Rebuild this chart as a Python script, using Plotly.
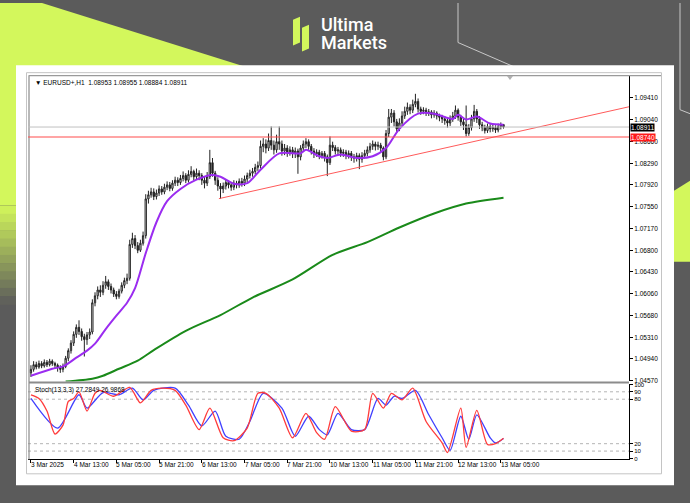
import plotly.graph_objects as go

W, H = 690, 503

# ---------------- data ----------------
tick_bars = [0, 16, 32, 48, 64, 80, 96, 112, 128, 144, 160, 176]
tick_labels = ["3 Mar 2025", "4 Mar 13:00", "5 Mar 05:00", "5 Mar 21:00", "6 Mar 13:00",
               "7 Mar 05:00", "7 Mar 21:00", "10 Mar 13:00", "11 Mar 05:00", "11 Mar 21:00",
               "12 Mar 13:00", "13 Mar 05:00"]
price_ticks = [1.04570, 1.04940, 1.05310, 1.05680, 1.06060, 1.06430, 1.06800, 1.07170,
               1.07550, 1.07920, 1.08290, 1.08660, 1.09040, 1.09410]

opens = [
    1.0470, 1.0476, 1.0484, 1.0480, 1.0486, 1.0482, 1.0488, 1.0484, 1.0490, 1.0486,
    1.0483, 1.0479, 1.0476, 1.0481, 1.0495, 1.0508, 1.0521, 1.0536, 1.0548, 1.0541,
    1.0532, 1.0527, 1.0535, 1.0540, 1.0590, 1.0602, 1.0612, 1.0608, 1.0620, 1.0626,
    1.0618, 1.0612, 1.0605, 1.0601, 1.0610, 1.0620, 1.0628, 1.0632, 1.0690, 1.0700,
    1.0688, 1.0680, 1.0692, 1.0705, 1.0768, 1.0775, 1.0780, 1.0772, 1.0778, 1.0785,
    1.0780, 1.0788, 1.0792, 1.0786, 1.0795, 1.0800, 1.0796, 1.0803, 1.0808, 1.0800,
    1.0810, 1.0815, 1.0806, 1.0812, 1.0808, 1.0800, 1.0795, 1.0806, 1.0830, 1.0812,
    1.0800, 1.0790, 1.0785, 1.0790, 1.0796, 1.0792, 1.0788, 1.0795, 1.0792, 1.0798,
    1.0795, 1.0802, 1.0808, 1.0812, 1.0815, 1.0822, 1.0825, 1.0858, 1.0862, 1.0855,
    1.0868, 1.0860, 1.0852, 1.0866, 1.0862, 1.0850, 1.0855, 1.0848, 1.0852, 1.0846,
    1.0850, 1.0840, 1.0855, 1.0862, 1.0866, 1.0858, 1.0850, 1.0845, 1.0848, 1.0842,
    1.0846, 1.0840, 1.0830, 1.0860, 1.0856, 1.0850, 1.0852, 1.0846, 1.0848, 1.0843,
    1.0846, 1.0840, 1.0838, 1.0842, 1.0836, 1.0842, 1.0846, 1.0852, 1.0858, 1.0862,
    1.0858, 1.0860, 1.0855, 1.0840, 1.0880, 1.0908, 1.0915, 1.0900, 1.0888, 1.0898,
    1.0910, 1.0918, 1.0925, 1.0920, 1.0930, 1.0935, 1.0922, 1.0918, 1.0920, 1.0915,
    1.0917, 1.0912, 1.0915, 1.0910, 1.0908, 1.0905, 1.0902, 1.0898, 1.0905, 1.0910,
    1.0920, 1.0908, 1.0900, 1.0895, 1.0880, 1.0890, 1.0905, 1.0918, 1.0905, 1.0895,
    1.0890, 1.0885, 1.0892, 1.0888, 1.0890, 1.0886, 1.0892, 1.08953]
highs = [
    1.0483, 1.0490, 1.0489, 1.0491, 1.0490, 1.0493, 1.0492, 1.0494, 1.0493, 1.0489,
    1.0486, 1.0483, 1.0486, 1.0499, 1.0512, 1.0526, 1.0541, 1.0553, 1.0560, 1.0546,
    1.0537, 1.0540, 1.0546, 1.0596, 1.0608, 1.0618, 1.0620, 1.0627, 1.0636, 1.0630,
    1.0623, 1.0616, 1.0610, 1.0614, 1.0625, 1.0633, 1.0640, 1.0698, 1.0710, 1.0706,
    1.0694, 1.0698, 1.0712, 1.0776, 1.0782, 1.0787, 1.0786, 1.0784, 1.0791, 1.0790,
    1.0794, 1.0798, 1.0797, 1.0800, 1.0806, 1.0805, 1.0809, 1.0815, 1.0812, 1.0817,
    1.0824, 1.0818, 1.0820, 1.0817, 1.0812, 1.0806, 1.0814, 1.0852, 1.0838, 1.0816,
    1.0805, 1.0795, 1.0796, 1.0802, 1.0800, 1.0797, 1.0800, 1.0799, 1.0803, 1.0804,
    1.0808, 1.0813, 1.0818, 1.0821, 1.0828, 1.0832, 1.0868, 1.0872, 1.0870, 1.0880,
    1.0892, 1.0868, 1.0878, 1.0892, 1.0868, 1.0862, 1.0860, 1.0858, 1.0857, 1.0856,
    1.0854, 1.0860, 1.0868, 1.0872, 1.0870, 1.0862, 1.0855, 1.0853, 1.0852, 1.0850,
    1.0850, 1.0844, 1.0875, 1.0866, 1.0860, 1.0857, 1.0856, 1.0853, 1.0852, 1.0851,
    1.0850, 1.0845, 1.0847, 1.0846, 1.0848, 1.0852, 1.0858, 1.0864, 1.0868, 1.0866,
    1.0866, 1.0864, 1.0858, 1.0886, 1.0922, 1.0922, 1.0920, 1.0905, 1.0906, 1.0918,
    1.0926, 1.0933, 1.0930, 1.0938, 1.0948, 1.0940, 1.0926, 1.0925, 1.0924, 1.0922,
    1.0920, 1.0920, 1.0918, 1.0914, 1.0912, 1.0910, 1.0907, 1.0911, 1.0917, 1.0928,
    1.0923, 1.0912, 1.0905, 1.0928, 1.0896, 1.0912, 1.0929, 1.0922, 1.0910, 1.0900,
    1.0895, 1.0897, 1.0896, 1.0895, 1.0894, 1.0897, 1.0899, 1.08955]
lows = [
    1.0463, 1.0472, 1.0476, 1.0477, 1.0478, 1.0479, 1.0480, 1.0481, 1.0482, 1.0478,
    1.0472, 1.0470, 1.0471, 1.0478, 1.0490, 1.0503, 1.0516, 1.0530, 1.0535, 1.0525,
    1.0498, 1.0518, 1.0528, 1.0536, 1.0584, 1.0596, 1.0600, 1.0603, 1.0614, 1.0612,
    1.0606, 1.0600, 1.0596, 1.0597, 1.0606, 1.0615, 1.0622, 1.0628, 1.0684, 1.0682,
    1.0675, 1.0677, 1.0688, 1.0700, 1.0760, 1.0770, 1.0766, 1.0767, 1.0773, 1.0775,
    1.0776, 1.0783, 1.0781, 1.0782, 1.0790, 1.0790, 1.0792, 1.0798, 1.0795, 1.0796,
    1.0805, 1.0800, 1.0802, 1.0800, 1.0792, 1.0786, 1.0790, 1.0802, 1.0806, 1.0792,
    1.0782, 1.0768, 1.0778, 1.0784, 1.0786, 1.0782, 1.0783, 1.0786, 1.0787, 1.0789,
    1.0790, 1.0797, 1.0803, 1.0806, 1.0810, 1.0816, 1.0820, 1.0848, 1.0846, 1.0850,
    1.0852, 1.0844, 1.0847, 1.0852, 1.0842, 1.0843, 1.0840, 1.0842, 1.0838, 1.0838,
    1.0811, 1.0834, 1.0850, 1.0855, 1.0852, 1.0844, 1.0838, 1.0840, 1.0836, 1.0837,
    1.0832, 1.0807, 1.0826, 1.0850, 1.0844, 1.0843, 1.0840, 1.0840, 1.0836, 1.0837,
    1.0833, 1.0830, 1.0832, 1.0819, 1.0830, 1.0837, 1.0841, 1.0847, 1.0852, 1.0851,
    1.0852, 1.0848, 1.0834, 1.0836, 1.0874, 1.0898, 1.0892, 1.0882, 1.0884, 1.0893,
    1.0905, 1.0912, 1.0913, 1.0915, 1.0925, 1.0916, 1.0912, 1.0913, 1.0910, 1.0910,
    1.0906, 1.0907, 1.0904, 1.0901, 1.0898, 1.0895, 1.0890, 1.0893, 1.0900, 1.0905,
    1.0902, 1.0893, 1.0886, 1.0875, 1.0876, 1.0885, 1.0900, 1.0898, 1.0888, 1.0884,
    1.0880, 1.0881, 1.0882, 1.0883, 1.0881, 1.0882, 1.0887, 1.08884]
closes = [
    1.0476, 1.0484, 1.0480, 1.0486, 1.0482, 1.0488, 1.0484, 1.0490, 1.0486, 1.0483,
    1.0479, 1.0476, 1.0481, 1.0495, 1.0508, 1.0521, 1.0536, 1.0548, 1.0541, 1.0532,
    1.0527, 1.0535, 1.0540, 1.0590, 1.0602, 1.0612, 1.0608, 1.0620, 1.0626, 1.0618,
    1.0612, 1.0605, 1.0601, 1.0610, 1.0620, 1.0628, 1.0632, 1.0690, 1.0700, 1.0688,
    1.0680, 1.0692, 1.0705, 1.0768, 1.0775, 1.0780, 1.0772, 1.0778, 1.0785, 1.0780,
    1.0788, 1.0792, 1.0786, 1.0795, 1.0800, 1.0796, 1.0803, 1.0808, 1.0800, 1.0810,
    1.0815, 1.0806, 1.0812, 1.0808, 1.0800, 1.0795, 1.0806, 1.0830, 1.0812, 1.0800,
    1.0790, 1.0785, 1.0790, 1.0796, 1.0792, 1.0788, 1.0795, 1.0792, 1.0798, 1.0795,
    1.0802, 1.0808, 1.0812, 1.0815, 1.0822, 1.0825, 1.0858, 1.0862, 1.0855, 1.0868,
    1.0860, 1.0852, 1.0866, 1.0862, 1.0850, 1.0855, 1.0848, 1.0852, 1.0846, 1.0850,
    1.0840, 1.0855, 1.0862, 1.0866, 1.0858, 1.0850, 1.0845, 1.0848, 1.0842, 1.0846,
    1.0840, 1.0830, 1.0860, 1.0856, 1.0850, 1.0852, 1.0846, 1.0848, 1.0843, 1.0846,
    1.0840, 1.0838, 1.0842, 1.0836, 1.0842, 1.0846, 1.0852, 1.0858, 1.0862, 1.0858,
    1.0860, 1.0855, 1.0840, 1.0880, 1.0908, 1.0915, 1.0900, 1.0888, 1.0898, 1.0910,
    1.0918, 1.0925, 1.0920, 1.0930, 1.0935, 1.0922, 1.0918, 1.0920, 1.0915, 1.0917,
    1.0912, 1.0915, 1.0910, 1.0908, 1.0905, 1.0902, 1.0898, 1.0905, 1.0910, 1.0920,
    1.0908, 1.0900, 1.0895, 1.0880, 1.0890, 1.0905, 1.0918, 1.0905, 1.0895, 1.0890,
    1.0885, 1.0892, 1.0888, 1.0890, 1.0886, 1.0892, 1.08953, 1.08911]

ma_fast_bars = [0, 8, 12, 17, 21, 24, 28, 32, 36, 39, 43, 47, 51, 56, 62, 68, 71, 76, 81, 86,
                93, 101, 103, 108, 111, 116, 122, 128, 133, 138, 145, 151, 158, 160, 163, 167,
                172, 177]
ma_fast_vals = [1.0465, 1.0477, 1.0481, 1.0496, 1.0508, 1.0520, 1.0545, 1.0568, 1.0590, 1.0615,
                1.0675, 1.0728, 1.0764, 1.0785, 1.0801, 1.0809, 1.0806, 1.0794, 1.0795, 1.0818,
                1.0846, 1.0846, 1.0852, 1.0841, 1.0838, 1.0844, 1.0838, 1.0841, 1.0855, 1.0888,
                1.0914, 1.0914, 1.0905, 1.0912, 1.0904, 1.0909, 1.0897, 1.0895]

ma_slow_bars = [13, 23, 27, 33, 40, 46, 58, 71, 83, 98, 113, 126, 138, 151, 163, 177]
ma_slow_vals = [1.0455, 1.0460, 1.0465, 1.0477, 1.0491, 1.0509, 1.0542, 1.0569, 1.0599,
                1.0630, 1.0672, 1.0694, 1.0719, 1.0743, 1.0760, 1.0770]

trend_bars = [70.4, 224]
trend_prices = [1.07684, 1.09258]
support_price = 1.08740
bid_price = 1.08911

stoch_k_bars = [0, 3, 6, 9, 12, 14, 16, 18, 21, 24, 26, 31, 37, 41, 45, 49, 54, 58, 63, 67,
                72, 76, 81, 85, 88, 93, 98, 103, 107, 110, 114, 120, 125, 128, 132, 135,
                139, 143, 148, 154, 156, 161, 163, 167, 171, 174, 177]
stoch_k_vals = [86, 81, 64, 33, 45, 77, 81, 90, 64, 88, 92, 84, 96, 75, 92, 95, 92, 72, 39, 68,
                28, 24, 41, 88, 88, 68, 28, 61, 35, 26, 70, 37, 39, 88, 68, 88,
                79, 95, 50, 21, 8, 68, 15, 65, 19, 20, 27.2849]
stoch_d_bars = [0, 10, 18, 21, 27, 33, 38, 42, 46, 54, 59, 64, 69, 73, 78, 82, 87, 94, 99,
                104, 108, 111, 115, 120, 125, 130, 133, 136, 139, 144, 149, 154, 157, 161,
                164, 167, 172, 174, 177]
stoch_d_vals = [81, 41, 86, 68, 89, 86, 95, 79, 92, 95, 72, 44, 64, 30, 26, 50, 88, 68, 30,
                57, 39, 32, 61, 39, 39, 81, 72, 84, 81, 92, 59, 28, 11, 57,
                26, 59, 28, 21, 26.9868]
stoch_levels = [90, 80, 20, 10]
stoch_ticks = [0, 10, 20, 80, 90, 100]

bars = list(range(len(closes)))

# ---------------- helpers ----------------
def PX(x):
    return x / W


def PY(y):
    return 1 - y / H


LIME = "#d3f75c"
DARK = "#5b5b5b"
FONT = "Liberation Sans"

X0, X1 = 28, 629          # chart plot area (pixels)
MAIN_T, MAIN_B = 73, 383
ST_T, ST_B = 386, 461

fig = go.Figure()

fig.add_trace(go.Candlestick(
    x=bars, open=opens, high=highs, low=lows, close=closes,
    increasing=dict(line=dict(color="#222222", width=1), fillcolor="white"),
    decreasing=dict(line=dict(color="#222222", width=1), fillcolor="#222222"),
    whiskerwidth=0, showlegend=False, hoverinfo="skip", xaxis="x", yaxis="y"))

fig.add_trace(go.Scatter(x=ma_slow_bars, y=ma_slow_vals, mode="lines",
                         line=dict(color="#1a8a1a", width=2, shape="spline", smoothing=0.8),
                         showlegend=False, hoverinfo="skip", xaxis="x", yaxis="y"))
fig.add_trace(go.Scatter(x=ma_fast_bars, y=ma_fast_vals, mode="lines",
                         line=dict(color="#9b2cf0", width=2, shape="spline", smoothing=0.8),
                         showlegend=False, hoverinfo="skip", xaxis="x", yaxis="y"))
fig.add_trace(go.Scatter(x=trend_bars, y=trend_prices, mode="lines",
                         line=dict(color="#ff5a5a", width=1),
                         showlegend=False, hoverinfo="skip", xaxis="x", yaxis="y"))

fig.add_trace(go.Scatter(x=stoch_d_bars, y=stoch_d_vals, mode="lines",
                         line=dict(color="#4040ff", width=1.3, shape="spline", smoothing=0.7),
                         showlegend=False, hoverinfo="skip", xaxis="x2", yaxis="y2"))
fig.add_trace(go.Scatter(x=stoch_k_bars, y=stoch_k_vals, mode="lines",
                         line=dict(color="#ff3b3b", width=1.3, shape="spline", smoothing=0.7),
                         showlegend=False, hoverinfo="skip", xaxis="x2", yaxis="y2"))

shapes = []
# background decorations
shapes.append(dict(type="path", xref="paper", yref="paper", layer="below",
                   path=f"M {PX(0)},{PY(0)} L {PX(42)},{PY(0)} L {PX(250)},{PY(66)} "
                        f"L {PX(16)},{PY(66)} L {PX(16)},{PY(205)} L {PX(0)},{PY(205)} Z",
                   fillcolor=LIME, line=dict(width=0)))
# gradient on left strip (lime -> grey)
steps = 12
for k in range(steps):
    t = (k + 0.5) / steps
    r = int(0xd3 + (0x5b - 0xd3) * t)
    g = int(0xf7 + (0x5b - 0xf7) * t)
    b = int(0x5c + (0x5b - 0x5c) * t)
    y0 = 205 + k * 100 / steps
    shapes.append(dict(type="rect", xref="paper", yref="paper", layer="below",
                       x0=PX(0), x1=PX(16), y0=PY(y0), y1=PY(y0 + 100 / steps + 0.5),
                       fillcolor=f"rgb({r},{g},{b})", line=dict(width=0)))
# right lime wedge
shapes.append(dict(type="path", xref="paper", yref="paper", layer="below",
                   path=f"M {PX(674)},{PY(190)} L {PX(690)},{PY(180)} L {PX(690)},{PY(262)} "
                        f"L {PX(674)},{PY(262)} Z",
                   fillcolor=LIME, line=dict(width=0)))
# thin decorative lines
shapes.append(dict(type="path", xref="paper", yref="paper", layer="below",
                   path=f"M {PX(458)},{PY(0)} L {PX(458)},{PY(40)} L {PX(540)},{PY(76)}",
                   line=dict(color="#c8c8c8", width=1)))
shapes.append(dict(type="path", xref="paper", yref="paper", layer="below",
                   path=f"M {PX(680)},{PY(0)} L {PX(680)},{PY(108)} L {PX(690)},{PY(112)}",
                   line=dict(color="#c8c8c8", width=1)))
# white panel
shapes.append(dict(type="rect", xref="paper", yref="paper", layer="below",
                   x0=PX(16), x1=PX(674), y0=PY(488), y1=PY(63),
                   fillcolor="white", line=dict(width=0)))
# MT4 window frame
shapes.append(dict(type="rect", xref="paper", yref="paper", layer="below",
                   x0=PX(26.5), x1=PX(661.5), y0=PY(476.5), y1=PY(70.5),
                   fillcolor="white", line=dict(color="#c4c4c4", width=1)))
shapes.append(dict(type="line", xref="paper", yref="paper", layer="above",
                   x0=PX(29), x1=PX(29), y0=PY(73), y1=PY(462),
                   line=dict(color="#8a8a8a", width=1.2)))
shapes.append(dict(type="line", xref="paper", yref="paper", layer="above",
                   x0=PX(29), x1=PX(661), y0=PY(73.5), y1=PY(73.5),
                   line=dict(color="#9a9a9a", width=1.2)))
# separator between main and stochastic windows
shapes.append(dict(type="rect", xref="paper", yref="paper", layer="above",
                   x0=PX(29), x1=PX(629), y0=PY(385), y1=PY(383),
                   fillcolor="#8c8c8c", line=dict(width=0)))
# chart shift marker
shapes.append(dict(type="path", xref="paper", yref="paper", layer="above",
                   path=f"M {PX(507)},{PY(74)} L {PX(513)},{PY(74)} L {PX(510)},{PY(78)} Z",
                   fillcolor="#b0b0b0", line=dict(width=0)))
# bid line and support line
shapes.append(dict(type="line", xref="x domain", yref="y", layer="above",
                   x0=0, x1=1, y0=bid_price, y1=bid_price,
                   line=dict(color="#c0c0c0", width=1)))
shapes.append(dict(type="line", xref="x domain", yref="y", layer="above",
                   x0=0, x1=1, y0=support_price, y1=support_price,
                   line=dict(color="#ff4d4d", width=1.2)))
# stochastic levels
for lv in stoch_levels:
    shapes.append(dict(type="line", xref="x2 domain", yref="y2", layer="below",
                       x0=0, x1=1, y0=lv, y1=lv,
                       line=dict(color="#b4b4b4", width=1, dash="dot")))
# logo icon
shapes.append(dict(type="path", xref="paper", yref="paper", layer="above",
                   path=f"M {PX(293)},{PY(17)} L {PX(300)},{PY(14)} L {PX(300)},{PY(40)} "
                        f"L {PX(293)},{PY(43)} Z",
                   fillcolor=LIME, line=dict(width=0)))
shapes.append(dict(type="path", xref="paper", yref="paper", layer="above",
                   path=f"M {PX(302)},{PY(25)} L {PX(309)},{PY(22)} L {PX(309)},{PY(46)} "
                        f"L {PX(302)},{PY(49)} Z",
                   fillcolor=LIME, line=dict(width=0)))

annotations = []
annotations.append(dict(text="Ultima", x=PX(319), y=PY(22), xref="paper", yref="paper",
                        xanchor="left", yanchor="middle", showarrow=False,
                        font=dict(family="Roboto", size=18, color="white", weight=500)))
annotations.append(dict(text="Markets", x=PX(319), y=PY(40), xref="paper", yref="paper",
                        xanchor="left", yanchor="middle", showarrow=False,
                        font=dict(family="Roboto", size=18, color="white", weight=500)))
annotations.append(dict(text="▼ EURUSD+,H1  1.08953 1.08955 1.08884 1.08911",
                        x=PX(33), y=PY(80), xref="paper", yref="paper",
                        xanchor="left", yanchor="middle", showarrow=False,
                        font=dict(family=FONT, size=6.5, color="black")))
annotations.append(dict(text="Stoch(13,3,3) 27.2849 26.9868",
                        x=PX(33), y=PY(392), xref="paper", yref="paper",
                        xanchor="left", yanchor="middle", showarrow=False,
                        font=dict(family=FONT, size=6.5, color="black")))
for b, lab in zip(tick_bars, tick_labels):
    annotations.append(dict(text=lab, x=b, y=PY(467), xref="x2", yref="paper",
                            xanchor="left", yanchor="middle", showarrow=False, xshift=-2,
                            font=dict(family=FONT, size=6.5, color="black")))
annotations.append(dict(text=f"{bid_price:.5f}", x=PX(630), y=bid_price, xref="paper", yref="y",
                        xanchor="left", yanchor="middle", showarrow=False,
                        bgcolor="black", borderpad=0,
                        font=dict(family=FONT, size=6.5, color="white")))
annotations.append(dict(text=f"{support_price:.5f}", x=PX(630), y=support_price, xref="paper",
                        yref="y", xanchor="left", yanchor="middle", showarrow=False,
                        bgcolor="#ff1a1a", borderpad=0,
                        font=dict(family=FONT, size=6.5, color="white")))

price_min = 1.04553
price_max = 1.09800

fig.update_layout(
    width=W, height=H, autosize=False,
    margin=dict(l=0, r=0, t=0, b=0),
    paper_bgcolor=DARK, plot_bgcolor="rgba(0,0,0,0)",
    showlegend=False,
    shapes=shapes, annotations=annotations,
    xaxis=dict(domain=[PX(X0), PX(X1)], range=[-1.1, 224], anchor="y",
               showticklabels=False, showgrid=False, zeroline=False, showline=False,
               ticks="", rangeslider=dict(visible=False), fixedrange=True),
    yaxis=dict(domain=[PY(MAIN_B), PY(MAIN_T)], range=[price_min, price_max], anchor="x",
               side="right", tickvals=price_ticks, ticktext=[f"{v:.5f}" for v in price_ticks],
               ticks="outside", ticklen=3, tickcolor="black", showline=True,
               linecolor="black", linewidth=1, showgrid=False, zeroline=False,
               tickfont=dict(family=FONT, size=6.5, color="black")),
    xaxis2=dict(domain=[PX(X0), PX(X1)], range=[-1.1, 224], anchor="y2",
                tickvals=tick_bars, showticklabels=False, ticks="outside", ticklen=3,
                tickcolor="black", showline=True, linecolor="black", linewidth=1,
                showgrid=False, zeroline=False),
    yaxis2=dict(domain=[PY(ST_B), PY(ST_T)], range=[0, 100], anchor="x2", side="right",
                tickvals=stoch_ticks, ticktext=[str(v) for v in stoch_ticks],
                ticks="outside", ticklen=3, tickcolor="black", showline=True,
                linecolor="black", linewidth=1, showgrid=False, zeroline=False,
                tickfont=dict(family=FONT, size=6, color="black")),
)

fig.write_html("out.html", config={"displayModeBar": False},
               post_script="document.body.style.margin='0';document.body.style.padding='0';")
